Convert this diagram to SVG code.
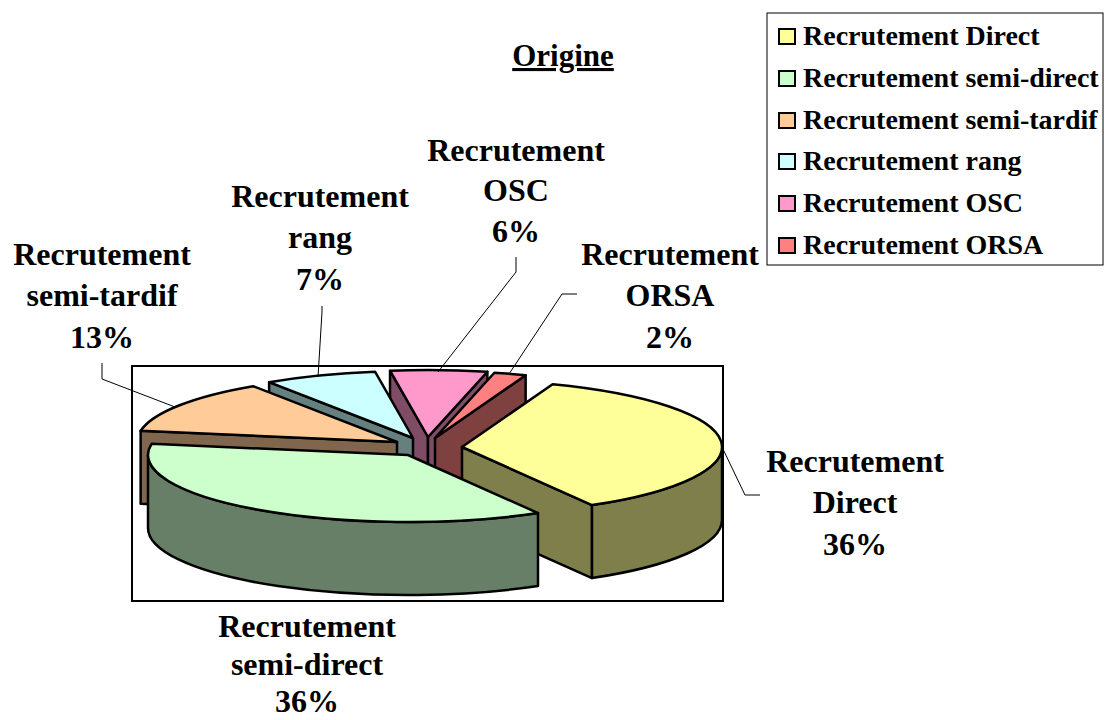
<svg xmlns="http://www.w3.org/2000/svg" width="1104" height="720" viewBox="0 0 1104 720">
<style>
text{font-family:"Liberation Serif","Times New Roman",serif;font-weight:bold;fill:#000}
.lbl{font-size:32px;text-anchor:middle}
.leg{font-size:28px}
.o{stroke:#000;stroke-width:2.5;stroke-linejoin:round}
.lead{fill:none;stroke:#000;stroke-width:1}
.sw{stroke:#000;stroke-width:2}
</style>
<rect width="1104" height="720" fill="#fff"/>
<text x="563" y="66" font-size="31" text-anchor="middle" text-decoration="underline">Origine</text>
<rect x="132" y="366" width="591" height="235" fill="none" stroke="#000" stroke-width="2"/>
<g id="legend">
<rect x="767" y="13" width="336" height="252" fill="#fff" stroke="#000" stroke-width="1"/>
<rect class="sw" x="779" y="29" width="16" height="15" fill="#FFFF99"/><text class="leg" x="803" y="45">Recrutement Direct</text>
<rect class="sw" x="779" y="71" width="16" height="15" fill="#CCFFCC"/><text class="leg" x="803" y="87">Recrutement semi-direct</text>
<rect class="sw" x="779" y="113" width="16" height="15" fill="#FFCC99"/><text class="leg" x="803" y="129">Recrutement semi-tardif</text>
<rect class="sw" x="779" y="154" width="16" height="15" fill="#CCFFFF"/><text class="leg" x="803" y="170">Recrutement rang</text>
<rect class="sw" x="779" y="196" width="16" height="15" fill="#FF99CC"/><text class="leg" x="803" y="212">Recrutement OSC</text>
<rect class="sw" x="779" y="238" width="16" height="15" fill="#FF8080"/><text class="leg" x="803" y="254">Recrutement ORSA</text>
</g>
<g id="slice-osc">
<path class="o" fill="#7F4C66" d="M428,437 L390.02,370.72 L390.02,443.72 L428,510 Z"/>
<path class="o" fill="#7F4C66" d="M428,437 L487.37,371.77 L487.37,444.77 L428,510 Z"/>
<path class="o" fill="#FF99CC" d="M428,437 L390.02,370.72 A260,67 0 0 1 487.37,371.77 Z"/>
</g>
<g id="slice-orsa">
<path class="o" fill="#7F4040" d="M435,438 L525.63,375.2 L525.63,448.2 L435,511 Z"/>
<path class="o" fill="#FF8080" d="M435,438 L494.37,372.77 A260,67 0 0 1 525.63,375.2 Z"/>
</g>
<g id="slice-rang">
<path class="o" fill="#667F7F" d="M413,438 L269.12,382.19 L269.12,455.19 L413,511 Z"/>
<path class="o" fill="#CCFFFF" d="M413,438 L269.12,382.19 A260,67 0 0 1 375.02,371.72 Z"/>
</g>
<g id="slice-semi-tardif">
<path class="o" fill="#7F664C" d="M397,442 L140.64,430.83 L140.64,503.83 L397,515 Z"/>
<path class="o" fill="#FFCC99" d="M397,442 L140.64,430.83 A260,67 0 0 1 253.12,386.19 Z"/>
</g>
<g id="slice-direct">
<path class="o" fill="#7F7F4C" d="M462,447 L592,505.02 L592,578.02 L462,520 Z"/>
<path class="o" fill="#7F7F4C" d="M722,447 A260,67 0 0 1 592,505.02 L592,578.02 A260,67 0 0 0 722,520 Z"/>
<path class="o" fill="#FFFF99" d="M462,447 L552.63,384.2 A260,67 0 0 1 592,505.02 Z"/>
</g>
<g id="slice-semi-direct">
<path class="o" fill="#667F66" d="M538,513.02 A260,67 0 0 1 148,455 L148,528 A260,67 0 0 0 538,586.02 Z"/>
<path class="o" fill="#CCFFCC" d="M408,455 L538,513.02 A260,67 0 0 1 151.64,443.83 Z"/>
</g>
<g id="connectors">
<path class="lead" d="M102,363 L102,379 L175,407"/>
<path class="lead" d="M322,306 L322,312 L318,377"/>
<path class="lead" d="M516,257 L516,272 L438,372"/>
<path class="lead" d="M577,294 L562,294 L509,374"/>
<path class="lead" d="M760,495 L745,495 L722,447"/>
</g>
<g id="labels">
<text class="lbl" x="102" y="265">Recrutement</text><text class="lbl" x="102" y="306">semi-tardif</text><text class="lbl" x="102" y="348">13%</text>
<text class="lbl" x="320" y="207">Recrutement</text><text class="lbl" x="320" y="248">rang</text><text class="lbl" x="320" y="290">7%</text>
<text class="lbl" x="516" y="161">Recrutement</text><text class="lbl" x="516" y="201">OSC</text><text class="lbl" x="516" y="242">6%</text>
<text class="lbl" x="670" y="265">Recrutement</text><text class="lbl" x="670" y="306">ORSA</text><text class="lbl" x="670" y="348">2%</text>
<text class="lbl" x="855" y="472">Recrutement</text><text class="lbl" x="855" y="513">Direct</text><text class="lbl" x="855" y="555">36%</text>
<text class="lbl" x="307" y="637">Recrutement</text><text class="lbl" x="307" y="675">semi-direct</text><text class="lbl" x="307" y="712">36%</text>
</g>
</svg>
